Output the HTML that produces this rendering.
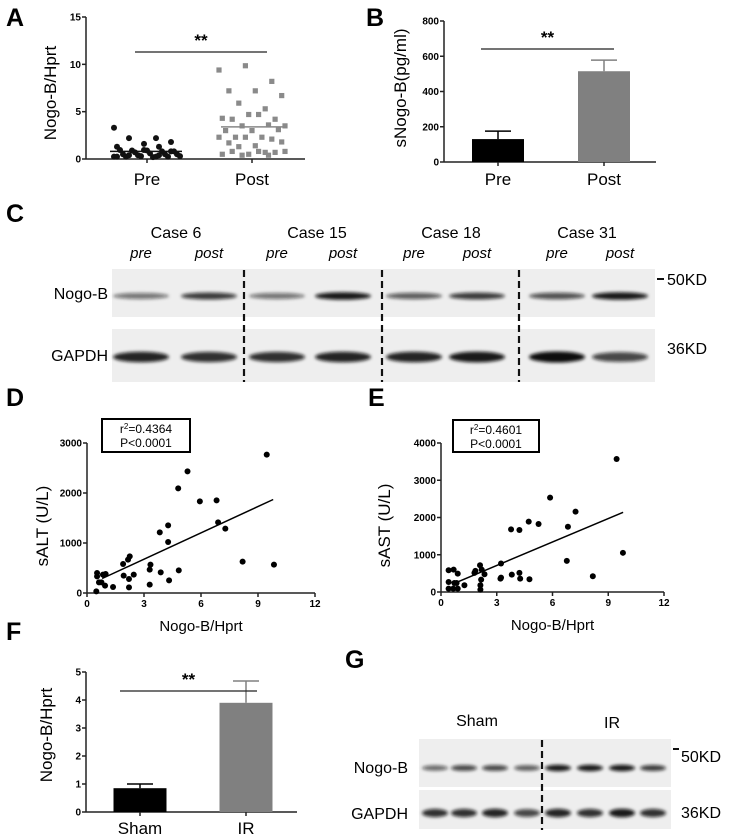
<!DOCTYPE html>
<html><head><meta charset="utf-8"><style>
html,body{margin:0;padding:0;background:#fff;}
svg{display:block;font-family:"Liberation Sans",Arial,sans-serif;}
.tk{font-size:10px;font-weight:bold;}
</style></head><body>
<svg id="fig" width="733" height="838" viewBox="0 0 733 838" xmlns="http://www.w3.org/2000/svg">
<defs>
<filter id="blur" x="-20%" y="-100%" width="140%" height="300%"><feGaussianBlur stdDeviation="1.6"/></filter>
</defs>
<g font-weight="bold" font-size="25">
<text x="6" y="26">A</text>
<text x="366" y="26">B</text>
<text x="6" y="222">C</text>
<text x="6" y="406">D</text>
<text x="368" y="406">E</text>
<text x="6" y="640">F</text>
<text x="345" y="668">G</text>
</g>
<g id="gA"></g>
<g id="gB"></g>
<g id="gC"></g>
<g id="gD"></g>
<g id="gE"></g>
<g id="gF"></g>
<g id="gG"></g>
</svg>
<script>
const aCategories = ["Pre","Post"];
const aPreValues = [3.3,2.2,2.2,1.8,1.6,1.3,1.3,0.9,0.8,0.9,0.95,0.8,0.7,0.5,0.6,0.5,0.5,0.4,0.3,0.2,0.25,0.25,0.3,0.25,0.25,0.4,0.8,0.95,0.25,0.4];
const aPostValues = [9.4,9.85,8.2,7.2,7.2,6.7,5.9,5.3,4.3,4.7,4.2,4.2,4.7,3.5,3.5,3.6,3.0,3.0,3.1,2.3,2.3,2.3,2.3,2.1,1.7,1.4,1.8,1.3,0.7,0.5,0.5,0.7,0.8,0.8,0.8,0.4,0.4];
const aMeans = [0.8,3.4];
const aTicks = [0,5,10,15];

const bCategories = ["Pre","Post"];
const bValues = [130,515];
const bErrors = [45,63];
const bTicks = [0,200,400,600,800];

const cCases = ["Case 6","Case 15","Case 18","Case 31"];
const cNogoIntensity = [0.55,0.8,0.55,0.95,0.65,0.8,0.7,0.95];
const cGapdhIntensity = [0.9,0.85,0.85,0.9,0.9,0.95,1.0,0.75];

const dX = [0.49,0.53,0.53,0.63,0.76,0.84,0.98,0.95,1.37,1.9,1.93,2.16,2.25,2.21,2.21,2.46,3.34,3.3,3.3,3.83,3.88,4.27,4.27,4.32,4.8,4.83,5.29,5.94,6.82,6.9,7.28,8.19,9.46,9.84];
const dY = [33,400,333,213,213,367,380,147,120,580,347,667,733,280,113,367,567,467,167,1213,413,1353,1020,253,2093,453,2433,1833,1853,1413,1287,627,2767,567];
const dFit = [[0.8,290],[9.8,1870]];
const dXTicks = [0,3,6,9,12];
const dYTicks = [0,1000,2000,3000];

const eX = [0.41,0.41,0.41,0.68,0.72,0.66,0.84,0.9,0.9,1.26,1.8,1.85,2.1,2.19,2.16,2.12,2.12,2.34,3.23,3.23,3.2,3.77,3.81,4.22,4.22,4.26,4.72,4.76,5.25,5.87,6.83,6.77,7.24,8.17,9.45,9.79];
const eY = [584,270,90,602,243,90,243,90,494,180,512,566,719,602,333,180,63,476,764,387,360,1681,467,1663,512,360,1888,342,1825,2535,1753,836,2158,422,3569,1052];
const eFit = [[0.8,250],[9.8,2140]];
const eXTicks = [0,3,6,9,12];
const eYTicks = [0,1000,2000,3000,4000];

const fCategories = ["Sham","IR"];
const fValues = [0.85,3.9];
const fErrors = [0.15,0.78];
const fTicks = [0,1,2,3,4,5];

const gNogoIntensity = [0.6,0.75,0.75,0.65,0.95,0.95,0.95,0.8];
const gGapdhIntensity = [0.85,0.85,0.9,0.75,0.9,0.85,0.95,0.85];

const NS="http://www.w3.org/2000/svg";
function mk(parent,tag,attrs,txt){const e=document.createElementNS(NS,tag);for(const k in attrs)e.setAttribute(k,attrs[k]);if(txt!==undefined)e.textContent=txt;parent.appendChild(e);return e;}
function lin(d0,d1,r0,r1){return v=>r0+(v-d0)/(d1-d0)*(r1-r0);}
function yAxis(g,x,y,ticks,label,lx,ly){
  const l=mk(g,'line',{x1:x,x2:x,y1:y(ticks[0]),y2:y(ticks[ticks.length-1]),stroke:'#222','stroke-width':1.5});
  
  
  ticks.forEach(t=>{
    mk(g,'line',{x1:x-4,x2:x,y1:y(t),y2:y(t),stroke:'#222','stroke-width':1.5});
    const tx=mk(g,'text',{x:x-5,y:y(t)+3.5,'text-anchor':'end',class:'tk'},t);
    
    
  });
  const tt=mk(g,'text',{x:lx,y:ly,'text-anchor':'middle','font-size':17,transform:`rotate(-90 ${lx} ${ly})`},label);
  
  
}
function sig(g,x1,x2,y){
  mk(g,'line',{x1:x1,x2:x2,y1:y,y2:y,stroke:'#222','stroke-width':1.3});
  const s=mk(g,'text',{x:(x1+x2)/2,y:y-6,'text-anchor':'middle','font-size':17,'font-weight':'bold'},'**');
  
  
}

(function(){
  const g=document.getElementById('gA');
  const y=lin(0,15,159,17);
  const cx=[147,252];
  yAxis(g,86,y,aTicks,'Nogo-B/Hprt',56,93);
  mk(g,'line',{x1:86,x2:305,y1:159,y2:159,stroke:'#222','stroke-width':1.5});
  cx.forEach((c,i)=>{
    mk(g,'line',{x1:c,x2:c,y1:159,y2:163,stroke:'#222','stroke-width':1.5});
    const t=mk(g,'text',{x:c,y:185,'text-anchor':'middle','font-size':17},aCategories[i]);
    
    
  });
  aPreValues.forEach((v,i)=>{
    const off=(((i*37)%23)-11)*3.0;
    const p=mk(g,'circle',{cx:cx[0]+off,cy:y(v),r:3,fill:'#111'});
    
    
  });
  aPostValues.forEach((v,i)=>{
    const off=(((i*29)%21)-10)*3.3;
    const p=mk(g,'rect',{x:cx[1]+off-2.6,y:y(v)-2.6,width:5.2,height:5.2,fill:'#8a8a8a'});
    
    
  });
  const m1=mk(g,'line',{x1:cx[0]-37,x2:cx[0]+35,y1:y(aMeans[0]),y2:y(aMeans[0]),stroke:'#111','stroke-width':1.5});
  
  
  const m2=mk(g,'line',{x1:cx[1]-31,x2:cx[1]+35,y1:y(aMeans[1]),y2:y(aMeans[1]),stroke:'#888','stroke-width':1.5});
  
  
  sig(g,135,267,52);
})();

(function(){
  const g=document.getElementById('gB');
  const y=lin(0,800,162,21);
  yAxis(g,444,y,bTicks,'sNogo-B(pg/ml)',406,88);
  mk(g,'line',{x1:444,x2:656,y1:162,y2:162,stroke:'#222','stroke-width':1.5});
  const cx=[498,604], fills=['#000','#808080'];
  bValues.forEach((v,i)=>{
    mk(g,'line',{x1:cx[i],x2:cx[i],y1:y(v),y2:y(v+bErrors[i]),stroke:fills[i],'stroke-width':1.5});
    mk(g,'line',{x1:cx[i]-13,x2:cx[i]+13,y1:y(v+bErrors[i]),y2:y(v+bErrors[i]),stroke:fills[i],'stroke-width':1.5});
    const b=mk(g,'rect',{x:cx[i]-26,y:y(v),width:52,height:162-y(v),fill:fills[i]});
    
    
    mk(g,'line',{x1:cx[i],x2:cx[i],y1:162,y2:166,stroke:'#222','stroke-width':1.5});
    const t=mk(g,'text',{x:cx[i],y:185,'text-anchor':'middle','font-size':17},bCategories[i]);
    
    
  });
  sig(g,481,614,49);
})();

function blot(g,x0,x1,y0,y1,lanes,intens,bandY,bw,bh){
  const r=mk(g,'rect',{x:x0,y:y0,width:x1-x0,height:y1-y0,fill:'#eeeeee'});
  
  
  lanes.forEach((lx,i)=>{
    const a=intens[i];
    const b=mk(g,'ellipse',{cx:lx,cy:bandY,rx:bw,ry:bh*(0.6+0.5*a),fill:'#111','fill-opacity':a,filter:'url(#blur)'});
    
    
  });
}
function dash(g,x,y0,y1){
  const d=mk(g,'line',{x1:x,x2:x,y1:y0,y2:y1,stroke:'#111','stroke-width':2.2,'stroke-dasharray':'7,4'});
  
  
}
function txt(g,x,y,s,attrs,name){const t=mk(g,'text',Object.assign({x:x,y:y},attrs),s);return t;}

(function(){
  const g=document.getElementById('gC');
  const lanes=[141,209,277,343,414,477,557,620];
  const casesX=[176,317,451,587];
  cCases.forEach((c,i)=>txt(g,casesX[i],238,c,{'text-anchor':'middle','font-size':16},'case-label'));
  lanes.forEach((l,i)=>txt(g,l,258,i%2?'post':'pre',{'text-anchor':'middle','font-size':15,'font-style':'italic'},'lane-label'));
  blot(g,112,655,269,317,lanes,cNogoIntensity,296,28,3.5);
  blot(g,112,655,329,382,lanes,cGapdhIntensity,357,28,5);
  [244,382,519].forEach(x=>dash(g,x,270,382));
  txt(g,108,299,'Nogo-B',{'text-anchor':'end','font-size':16},'row-label-nogo-b');
  txt(g,108,361,'GAPDH',{'text-anchor':'end','font-size':16},'row-label-gapdh');
  mk(g,'line',{x1:657,x2:664,y1:279,y2:279,stroke:'#111','stroke-width':2});
  txt(g,667,285,'50KD',{'font-size':16},'marker-50kd');
  txt(g,667,354,'36KD',{'font-size':16},'marker-36kd');
})();

function scatter(g,ox,x12,oy,ytop,ymax,xs,ys,fit,xt,yt,ytitle,ytx,box,r2){
  const x=lin(0,12,ox,x12), y=lin(0,ymax,oy,ytop);
  yAxis(g,ox,y,yt,ytitle,ytx,(oy+ytop)/2+8);
  mk(g,'line',{x1:ox,x2:x12,y1:oy,y2:oy,stroke:'#222','stroke-width':1.5});
  xt.forEach(t=>{
    mk(g,'line',{x1:x(t),x2:x(t),y1:oy,y2:oy+4,stroke:'#222','stroke-width':1.5});
    txt(g,x(t),oy+14,t,{'text-anchor':'middle',class:'tk'},'x-tick-label');
  });
  txt(g,(ox+x12)/2,oy+38,'Nogo-B/Hprt',{'text-anchor':'middle','font-size':15},'x-axis-title');
  xs.forEach((v,i)=>{
    const p=mk(g,'circle',{cx:x(v),cy:y(ys[i]),r:3,fill:'#000'});
    
    
  });
  const l=mk(g,'line',{x1:x(fit[0][0]),y1:y(fit[0][1]),x2:x(fit[1][0]),y2:y(fit[1][1]),stroke:'#000','stroke-width':1.5});
  
  
  const b=mk(g,'rect',{x:box[0],y:box[1],width:box[2],height:box[3],fill:'#fff',stroke:'#000','stroke-width':2});
  
  
  const t=txt(g,box[0]+box[2]/2,box[1]+14,'',{'text-anchor':'middle','font-size':12},'r-squared');
  t.innerHTML='r<tspan font-size="8" dy="-4">2</tspan><tspan dy="4">='+r2+'</tspan>';
  txt(g,box[0]+box[2]/2,box[1]+28,'P<0.0001',{'text-anchor':'middle','font-size':12},'p-value');
}
scatter(document.getElementById('gD'),87,315,593,443,3000,dX,dY,dFit,dXTicks,dYTicks,'sALT (U/L)',48,[102,419,88,33],'0.4364');
scatter(document.getElementById('gE'),441,664,592,443,4000,eX,eY,eFit,eXTicks,eYTicks,'sAST (U/L)',390,[453,420,86,32],'0.4601');

(function(){
  const g=document.getElementById('gF');
  const y=lin(0,5,812,672);
  yAxis(g,86,y,fTicks,'Nogo-B/Hprt',52,735);
  mk(g,'line',{x1:86,x2:297,y1:812,y2:812,stroke:'#222','stroke-width':1.5});
  const cx=[140,246], fills=['#000','#808080'];
  fValues.forEach((v,i)=>{
    mk(g,'line',{x1:cx[i],x2:cx[i],y1:y(v),y2:y(v+fErrors[i]),stroke:fills[i],'stroke-width':1.5});
    mk(g,'line',{x1:cx[i]-13,x2:cx[i]+13,y1:y(v+fErrors[i]),y2:y(v+fErrors[i]),stroke:fills[i],'stroke-width':1.5});
    const b=mk(g,'rect',{x:cx[i]-26.5,y:y(v),width:53,height:812-y(v),fill:fills[i]});
    
    
    mk(g,'line',{x1:cx[i],x2:cx[i],y1:812,y2:816,stroke:'#222','stroke-width':1.5});
    txt(g,cx[i],834,fCategories[i],{'text-anchor':'middle','font-size':17},'x-category-label');
  });
  sig(g,120,257,691);
})();

(function(){
  const g=document.getElementById('gG');
  const lanes=[435,464,495,527,558,590,622,653];
  txt(g,477,726,'Sham',{'text-anchor':'middle','font-size':16},'group-label-sham');
  txt(g,612,728,'IR',{'text-anchor':'middle','font-size':16},'group-label-ir');
  blot(g,419,671,739,787,lanes,gNogoIntensity,768,13,3);
  blot(g,419,671,790,829,lanes,gGapdhIntensity,813,13,4);
  dash(g,542,740,830);
  txt(g,408,773,'Nogo-B',{'text-anchor':'end','font-size':16},'row-label-nogo-b');
  txt(g,408,819,'GAPDH',{'text-anchor':'end','font-size':16},'row-label-gapdh');
  mk(g,'line',{x1:673,x2:679,y1:749,y2:749,stroke:'#111','stroke-width':2});
  txt(g,681,762,'50KD',{'font-size':16},'marker-50kd');
  txt(g,681,818,'36KD',{'font-size':16},'marker-36kd');
})();
</script>
</body></html>
